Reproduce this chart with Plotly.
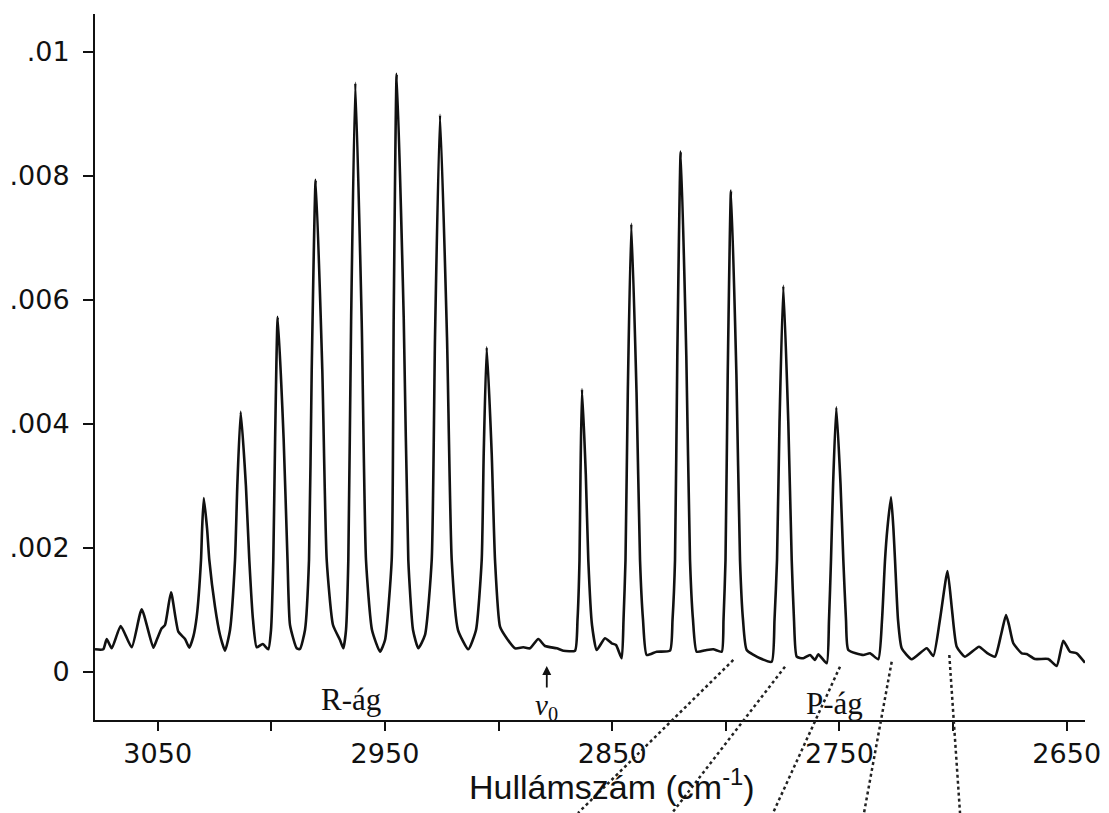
import plotly.graph_objects as go

# Traced HCl rotational-vibrational spectrum (wavenumber in cm^-1, absorbance)
wavenumber = [
    3077.60, 3073.95, 3072.45, 3070.25, 3066.29, 3061.45, 3057.05, 3051.94, 3050.45, 3048.25,
    3046.79, 3044.15, 3040.94, 3037.99, 3036.10, 3034.34, 3032.84, 3030.95, 3030.47, 3029.72,
    3028.27, 3027.30, 3024.79, 3022.59, 3020.39, 3018.19, 3015.99, 3014.98, 3013.48, 3011.19,
    3009.70, 3008.07, 3006.44, 3003.80, 3001.34, 3000.15, 2999.14, 2998.34, 2997.20, 2994.60,
    2992.89, 2991.79, 2988.84, 2987.39, 2985.19, 2983.43, 2982.24, 2980.48, 2977.58, 2975.64,
    2972.87, 2969.79, 2968.33, 2967.15, 2966.13, 2964.90, 2963.05, 2960.24, 2958.35, 2955.71,
    2952.18, 2949.98, 2947.04, 2946.16, 2944.84, 2941.76, 2939.73, 2937.66, 2935.33, 2932.38,
    2929.43, 2927.98, 2925.78, 2922.70, 2920.63, 2917.86, 2913.33, 2909.94, 2907.43, 2906.55,
    2905.23, 2903.03, 2901.58, 2899.38, 2896.43, 2892.78, 2889.13, 2886.18, 2882.53, 2879.58,
    2874.43, 2871.53, 2866.38, 2865.28, 2864.40, 2863.96, 2863.30, 2861.63, 2860.53, 2858.90,
    2856.83, 2853.18, 2850.23, 2848.34, 2845.83, 2845.03, 2844.16, 2843.14, 2841.60, 2839.31,
    2837.77, 2836.45, 2834.83, 2830.43, 2824.57, 2823.47, 2822.37, 2821.36, 2819.86, 2817.40,
    2815.77, 2814.45, 2812.83, 2808.42, 2805.52, 2801.82, 2801.03, 2800.15, 2799.18, 2797.73,
    2795.35, 2793.77, 2792.45, 2790.82, 2784.97, 2779.82, 2778.59, 2777.49, 2776.39, 2774.71,
    2772.51, 2771.02, 2770.01, 2768.82, 2765.92, 2762.97, 2760.77, 2759.32, 2755.62, 2754.61,
    2753.73, 2752.80, 2751.40, 2749.55, 2748.31, 2747.13, 2746.11, 2739.51, 2736.57, 2732.91,
    2731.28, 2729.96, 2728.91, 2727.32, 2726.27, 2725.56, 2724.24, 2722.62, 2718.22, 2711.62,
    2708.71, 2705.76, 2702.46, 2700.48, 2698.41, 2694.76, 2688.60, 2685.21, 2681.56, 2678.92,
    2676.72, 2675.40, 2673.51, 2669.81, 2667.61, 2663.96, 2658.11, 2654.41, 2651.51, 2648.57,
    2645.62, 2641.96,
]

absorbance = [
    3.66e-4, 3.66e-4, 5.32e-4, 3.82e-4, 7.42e-4, 3.98e-4, 10.11e-4, 3.92e-4, 5.16e-4, 7.05e-4,
    7.58e-4, 12.85e-4, 6.50e-4, 5.32e-4, 3.92e-4, 5.69e-4, 8.92e-4, 18.06e-4, 23.06e-4, 28.06e-4,
    23.06e-4, 18.06e-4, 10.53e-4, 5.97e-4, 3.44e-4, 6.77e-4, 18.06e-4, 30.0e-4, 41.94e-4, 30.0e-4,
    18.06e-4, 8.39e-4, 3.98e-4, 4.52e-4, 3.66e-4, 6.77e-4, 18.06e-4, 37.66e-4, 57.26e-4, 37.66e-4,
    18.06e-4, 7.58e-4, 3.82e-4, 3.71e-4, 6.77e-4, 18.06e-4, 48.71e-4, 79.35e-4, 48.71e-4, 18.06e-4,
    7.58e-4, 5.16e-4, 3.82e-4, 6.77e-4, 18.06e-4, 56.53e-4, 95.0e-4, 56.53e-4, 18.06e-4, 6.77e-4,
    3.27e-4, 5.16e-4, 18.06e-4, 57.26e-4, 96.45e-4, 57.26e-4, 18.06e-4, 6.77e-4, 3.82e-4, 5.97e-4,
    18.06e-4, 53.95e-4, 89.84e-4, 53.95e-4, 18.06e-4, 6.77e-4, 3.66e-4, 6.77e-4, 18.06e-4, 35.19e-4,
    52.34e-4, 35.19e-4, 18.06e-4, 7.31e-4, 5.44e-4, 3.82e-4, 3.98e-4, 3.82e-4, 5.32e-4, 4.19e-4,
    3.82e-4, 3.44e-4, 3.44e-4, 8.39e-4, 18.06e-4, 31.82e-4, 45.6e-4, 31.82e-4, 18.06e-4, 7.58e-4,
    3.55e-4, 5.44e-4, 4.63e-4, 4.35e-4, 2.21e-4, 8.39e-4, 18.06e-4, 45.16e-4, 72.26e-4, 45.16e-4,
    18.06e-4, 8.39e-4, 2.74e-4, 3.27e-4, 3.44e-4, 8.39e-4, 18.06e-4, 50.98e-4, 83.92e-4, 50.98e-4,
    18.06e-4, 8.39e-4, 3.27e-4, 3.55e-4, 3.66e-4, 3.27e-4, 8.39e-4, 18.06e-4, 47.84e-4, 77.63e-4,
    47.84e-4, 18.06e-4, 8.39e-4, 3.55e-4, 2.21e-4, 1.66e-4, 8.39e-4, 18.06e-4, 40.16e-4, 62.26e-4,
    40.16e-4, 18.06e-4, 8.39e-4, 2.47e-4, 2.21e-4, 2.74e-4, 1.94e-4, 2.85e-4, 1.40e-4, 8.39e-4,
    18.06e-4, 30.37e-4, 42.69e-4, 30.37e-4, 18.06e-4, 8.39e-4, 3.55e-4, 2.74e-4, 3.02e-4, 2.05e-4,
    8.39e-4, 18.06e-4, 23.15e-4, 28.23e-4, 23.15e-4, 18.06e-4, 8.39e-4, 3.82e-4, 2.05e-4, 3.82e-4,
    2.58e-4, 8.5e-4, 16.29e-4, 10.0e-4, 4.08e-4, 2.47e-4, 4.08e-4, 3.11e-4, 2.47e-4, 5.97e-4,
    9.19e-4, 7.58e-4, 4.63e-4, 3.02e-4, 2.90e-4, 2.10e-4, 2.10e-4, 0.97e-4, 5.05e-4, 3.27e-4,
    3.02e-4, 1.50e-4,
]

x_tick_values = [3050, 3000, 2950, 2900, 2850, 2800, 2750, 2700, 2650]
x_tick_labels = ["3050", "", "2950", "", "2850", "", "2750", "", "2650"]
y_tick_values = [0, 0.002, 0.004, 0.006, 0.008, 0.01]
y_tick_labels = ["0", ".002", ".004", ".006", ".008", ".01"]

X_RANGE = [3077.6, 2641.96]
Y_RANGE = [-0.000774, 0.01061]

# dotted guide lines: (top wavenumber, top absorbance, bottom wavenumber, bottom absorbance)
guide_lines = [
    (2796.72, 0.000194, 2865.06, -0.002274),
    (2773.97, 0.000086, 2823.69, -0.002274),
    (2749.77, 0.000086, 2779.25, -0.002274),
    (2727.02, 0.000166, 2739.21, -0.002274),
    (2701.67, 0.000274, 2696.96, -0.002274),
]

def fx(w):
    return (X_RANGE[0] - w) / (X_RANGE[0] - X_RANGE[1])

def fy(a):
    return (a - Y_RANGE[0]) / (Y_RANGE[1] - Y_RANGE[0])

fig = go.Figure()
fig.add_trace(go.Scatter(
    x=wavenumber, y=absorbance, mode="lines",
    line=dict(color="#111111", width=2.6, shape="spline", smoothing=0.5),
    showlegend=False, hoverinfo="skip",
))

shapes = []
for x0, y0, x1, y1 in guide_lines:
    shapes.append(dict(
        type="line", xref="paper", yref="paper",
        x0=fx(x0), y0=fy(y0), x1=fx(x1), y1=fy(y1),
        line=dict(color="#222222", width=2.5, dash="dot"),
    ))

serif = "Liberation Serif"
annotations = [
    dict(x=2965.0, y=-0.00045, xref="x", yref="y", text="R-ág", showarrow=False,
         font=dict(family=serif, size=31, color="#111111")),
    dict(x=2752.0, y=-0.00050, xref="x", yref="y", text="P-ág", showarrow=False,
         font=dict(family=serif, size=31, color="#111111")),
    dict(x=2878.8, y=0.000095, xref="x", yref="y", ax=0, ay=41,
         text="<i>ν</i><sub>0</sub>", showarrow=True, arrowhead=2, arrowsize=1.0,
         arrowwidth=1.8, arrowcolor="#111111",
         font=dict(family=serif, size=29, color="#111111")),
    dict(x=fx(2850.0), y=fy(-0.00219), xref="paper", yref="paper",
         text="Hullámszám (cm<sup>-1</sup>)", showarrow=False,
         font=dict(family="Liberation Sans", size=34, color="#111111")),
]

fig.update_layout(
    width=1109, height=813,
    # page body has an 8px default margin; margins are offset to compensate
    margin=dict(l=87, r=32, t=6, b=101, autoexpand=False),
    paper_bgcolor="white", plot_bgcolor="white",
    shapes=shapes, annotations=annotations,
    xaxis=dict(
        range=X_RANGE, showgrid=False, zeroline=False, automargin=False,
        showline=True, linecolor="#111111", linewidth=2,
        ticks="outside", ticklen=9, tickwidth=2, tickcolor="#111111",
        tickvals=x_tick_values, ticktext=x_tick_labels,
        tickfont=dict(family="DejaVu Sans", size=27, color="#111111"),
    ),
    yaxis=dict(
        range=Y_RANGE, showgrid=False, zeroline=False, automargin=False,
        showline=True, linecolor="#111111", linewidth=2,
        ticks="outside", ticklen=10, tickwidth=2, tickcolor="#111111",
        tickvals=y_tick_values, ticktext=y_tick_labels,
        ticklabelstandoff=8,
        tickfont=dict(family="DejaVu Sans", size=27, color="#111111"),
    ),
)

fig.write_html("out.html")
